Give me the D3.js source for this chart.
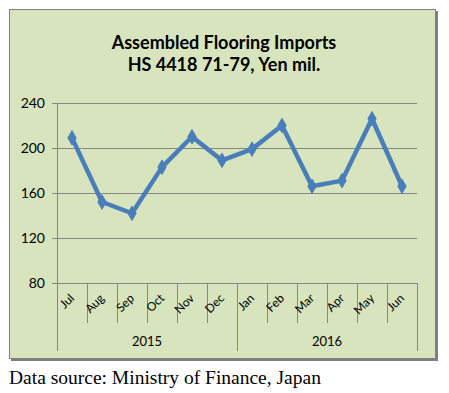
<!DOCTYPE html>
<html><head><meta charset="utf-8">
<script src="https://cdn.jsdelivr.net/npm/d3@7"></script>
<style>body{margin:0;background:#fff}svg{display:block}</style>
</head><body>
<script>
const months = ["Jul","Aug","Sep","Oct","Nov","Dec","Jan","Feb","Mar","Apr","May","Jun"];
const years = ["2015","2016"];
const monthsPerYear = [6, 6];
const values = [209, 152, 142, 183, 210, 189, 199, 220, 166, 171, 226, 166];
const yTicks = [80, 120, 160, 200, 240];
const titleLines = ["Assembled Flooring Imports", "HS 4418 71-79, Yen mil."];
const source = "Data source: Ministry of Finance, Japan";

(function () {
const W = 449, H = 393;
const svg = d3.select("body").append("svg").attr("width", W).attr("height", H);
const font = "Lato, 'Open Sans', sans-serif";

// panel
svg.append("rect").attr("x", 11).attr("y", 11).attr("width", 427).attr("height", 350).attr("fill", "#7f7f7f");
svg.append("rect").attr("x", 9.5).attr("y", 9.5).attr("width", 426).attr("height", 349)
  .attr("fill", "#d7e4bd").attr("stroke", "#808080").attr("stroke-width", 1);

const pL = 57, pR = 417, pT = 103, pB = 283;
const x = d3.scaleBand().domain(months.map((m, i) => i)).range([pL, pR]);
const y = d3.scaleLinear().domain([80, 240]).range([pB, pT]);

// gridlines
svg.append("g").selectAll("line").data(yTicks).join("line")
  .attr("x1", pL - 5).attr("x2", pR).attr("y1", d => y(d) + 0.5).attr("y2", d => y(d) + 0.5)
  .attr("stroke", "#868686").attr("stroke-width", 1);
svg.append("line").attr("x1", pL + 0.5).attr("x2", pL + 0.5).attr("y1", pT).attr("y2", 351)
  .attr("stroke", "#868686");

// y labels
svg.append("g").selectAll("text").data(yTicks).join("text")
  .attr("x", 45).attr("y", d => y(d) + 5).attr("text-anchor", "end")
  .attr("font-family", font).attr("font-size", 14).attr("fill", "#000").text(d => d);

// month tick lines
const bw = x.bandwidth();
const bounds = d3.range(1, months.length + 1);
svg.append("g").selectAll("line").data(bounds).join("line")
  .attr("x1", i => pL + i * bw + 0.5).attr("x2", i => pL + i * bw + 0.5)
  .attr("y1", pB).attr("y2", i => (i % 6 === 0) ? 351 : 323)
  .attr("stroke", "#868686");

// month labels
svg.append("g").selectAll("text").data(months).join("text")
  .attr("transform", (d, i) => `translate(${x(i) + bw / 2 + 3},${pB + 16}) rotate(-45)`)
  .attr("text-anchor", "end").attr("font-family", font).attr("font-size", 12).attr("fill", "#000")
  .text(d => d);

// year labels
let start = 0;
years.forEach((yr, k) => {
  const n = monthsPerYear[k];
  const cx = (x(start) + x(start + n - 1) + bw) / 2;
  svg.append("text").attr("x", cx).attr("y", 346).attr("text-anchor", "middle")
    .attr("font-family", font).attr("font-size", 13).attr("fill", "#000").text(yr);
  start += n;
});

// line
const line = d3.line().x((d, i) => x(i) + bw / 2).y(d => y(d));
svg.append("path").datum(values).attr("d", line).attr("fill", "none")
  .attr("stroke", "#4a7ebb").attr("stroke-width", 4.5).attr("stroke-linejoin", "round");
svg.append("g").selectAll("path").data(values).join("path")
  .attr("d", d3.symbol().type(d3.symbolDiamond).size(60))
  .attr("transform", (d, i) => `translate(${x(i) + bw / 2},${y(d)})`)
  .attr("fill", "#4a7ebb").attr("stroke", "#4a7ebb");

// title
svg.append("g").selectAll("text").data(titleLines).join("text")
  .attr("x", 224).attr("y", (d, i) => 49 + i * 22).attr("text-anchor", "middle")
  .attr("font-family", font).attr("font-weight", "bold").attr("font-size", 18).attr("fill", "#000")
  .text(d => d);

// source
svg.append("text").attr("x", 9).attr("y", 384).attr("font-family", "'Liberation Serif', 'Times New Roman', serif")
  .attr("font-size", 19.5).attr("fill", "#000").text(source);
})();
</script>
</body></html>
